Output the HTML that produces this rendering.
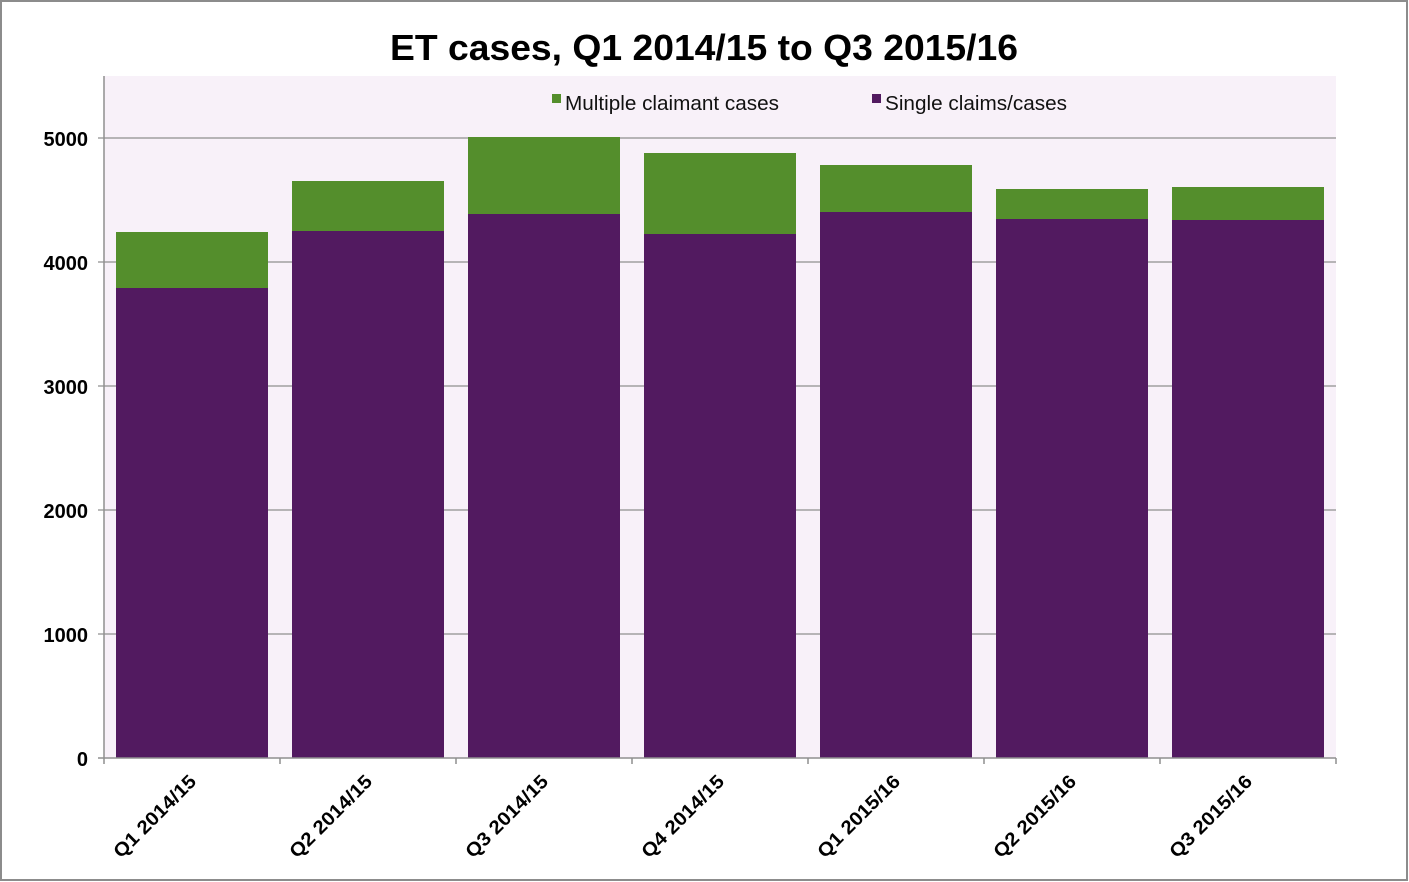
<!DOCTYPE html>
<html><head><meta charset="utf-8"><style>html,body{margin:0;padding:0;background:#fff}svg{display:block}</style></head>
<body>
<svg width="1409" height="882" xmlns="http://www.w3.org/2000/svg" font-family="Liberation Sans, sans-serif">
<rect x="1" y="1" width="1406" height="879" fill="#fff" stroke="#8c8c8c" stroke-width="2"/>
<rect x="104" y="76" width="1232" height="682" fill="#f8f1f9"/>
<g stroke="#8f8f8f" stroke-width="1.3">
<line x1="98" y1="138" x2="1336" y2="138"/>
<line x1="98" y1="262" x2="1336" y2="262"/>
<line x1="98" y1="386" x2="1336" y2="386"/>
<line x1="98" y1="510" x2="1336" y2="510"/>
<line x1="98" y1="634" x2="1336" y2="634"/>
</g>
<g>
<rect x="116" y="232" width="152" height="526" fill="#548e2c"/><rect x="116" y="288" width="152" height="470" fill="#521a60"/>
<rect x="292" y="181" width="152" height="577" fill="#548e2c"/><rect x="292" y="231" width="152" height="527" fill="#521a60"/>
<rect x="468" y="137" width="152" height="621" fill="#548e2c"/><rect x="468" y="214" width="152" height="544" fill="#521a60"/>
<rect x="644" y="153" width="152" height="605" fill="#548e2c"/><rect x="644" y="234" width="152" height="524" fill="#521a60"/>
<rect x="820" y="165" width="152" height="593" fill="#548e2c"/><rect x="820" y="212" width="152" height="546" fill="#521a60"/>
<rect x="996" y="189" width="152" height="569" fill="#548e2c"/><rect x="996" y="219" width="152" height="539" fill="#521a60"/>
<rect x="1172" y="187" width="152" height="571" fill="#548e2c"/><rect x="1172" y="220" width="152" height="538" fill="#521a60"/>
</g>
<g stroke="#8f8f8f" stroke-width="1.5">
<line x1="104" y1="76" x2="104" y2="758"/>
<line x1="98" y1="758" x2="1336" y2="758"/>
<line x1="104" y1="758" x2="104" y2="764"/><line x1="280" y1="758" x2="280" y2="764"/><line x1="456" y1="758" x2="456" y2="764"/><line x1="632" y1="758" x2="632" y2="764"/><line x1="808" y1="758" x2="808" y2="764"/><line x1="984" y1="758" x2="984" y2="764"/><line x1="1160" y1="758" x2="1160" y2="764"/><line x1="1336" y1="758" x2="1336" y2="764"/>
</g>
<g font-size="20" font-weight="bold" text-anchor="end" fill="#000">
<text x="88" y="146">5000</text><text x="88" y="270">4000</text><text x="88" y="394">3000</text><text x="88" y="518">2000</text><text x="88" y="642">1000</text><text x="88" y="766">0</text>
</g>
<g font-size="19" font-weight="bold" fill="#000">
<text transform="translate(121,859) rotate(-45)" textLength="108" lengthAdjust="spacingAndGlyphs">Q1 2014/15</text>
<text transform="translate(297,859) rotate(-45)" textLength="108" lengthAdjust="spacingAndGlyphs">Q2 2014/15</text>
<text transform="translate(473,859) rotate(-45)" textLength="108" lengthAdjust="spacingAndGlyphs">Q3 2014/15</text>
<text transform="translate(649,859) rotate(-45)" textLength="108" lengthAdjust="spacingAndGlyphs">Q4 2014/15</text>
<text transform="translate(825,859) rotate(-45)" textLength="108" lengthAdjust="spacingAndGlyphs">Q1 2015/16</text>
<text transform="translate(1001,859) rotate(-45)" textLength="108" lengthAdjust="spacingAndGlyphs">Q2 2015/16</text>
<text transform="translate(1177,859) rotate(-45)" textLength="108" lengthAdjust="spacingAndGlyphs">Q3 2015/16</text>
</g>
<rect x="552" y="94" width="9" height="9" fill="#548e2c"/>
<text x="565" y="110" font-size="20" fill="#111" textLength="214" lengthAdjust="spacingAndGlyphs">Multiple claimant cases</text>
<rect x="872" y="94" width="9" height="9" fill="#521a60"/>
<text x="885" y="110" font-size="20" fill="#111" textLength="182" lengthAdjust="spacingAndGlyphs">Single claims/cases</text>
<text x="390" y="60" font-size="36" font-weight="bold" fill="#000" textLength="628" lengthAdjust="spacingAndGlyphs">ET cases, Q1 2014/15 to Q3 2015/16</text>
</svg>
</body></html>
